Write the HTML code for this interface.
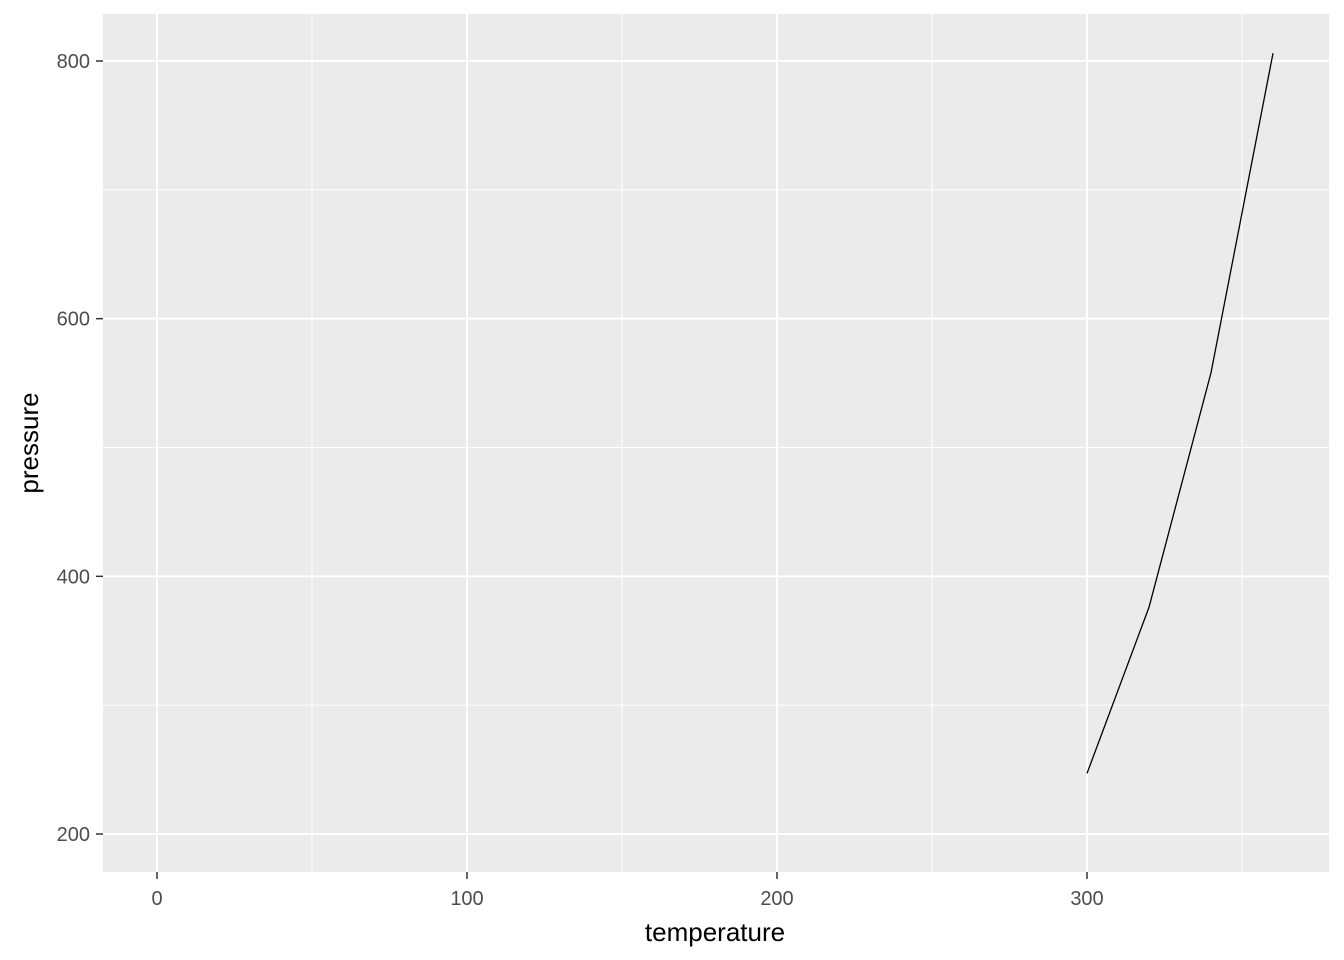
<!DOCTYPE html>
<html><head><meta charset="utf-8"><style>
body{margin:0;background:#fff;}
svg{display:block;font-family:"Liberation Sans",Arial,sans-serif;}
</style></head><body>
<svg id="chart" width="1344" height="960">
<rect x="103" y="14" width="1226" height="858" fill="#ebebeb"/>
<g id="grid"></g>
<g id="axes"></g>
<path id="line" fill="none" stroke="#000" stroke-width="1.3"/>
<text x="715" y="941" text-anchor="middle" font-size="26" fill="#000">temperature</text>
<text transform="translate(38,443) rotate(-90)" text-anchor="middle" font-size="26" fill="#000">pressure</text>
</svg>
<script>
const temperature=[300,320,340,360];
const pressure=[247,376,558,806];
const xTicks=[0,100,200,300];
const yTicks=[200,400,600,800];
const xMinor=[50,150,250,350];
const yMinor=[300,500,700];
const NS="http://www.w3.org/2000/svg";
function X(v){return 157+v*3.1;}
function Y(v){return 834-(v-200)*(773/600);}
const grid=document.getElementById('grid'),axes=document.getElementById('axes');
function ln(p,x1,y1,x2,y2,c,w,name){const l=document.createElementNS(NS,'line');
l.setAttribute('x1',x1);l.setAttribute('y1',y1);l.setAttribute('x2',x2);l.setAttribute('y2',y2);
l.setAttribute('stroke',c);l.setAttribute('stroke-width',w);


p.appendChild(l);}
function tx(x,y,s,anchor,name){const t=document.createElementNS(NS,'text');
t.setAttribute('x',x);t.setAttribute('y',y);t.setAttribute('text-anchor',anchor);
t.setAttribute('font-size','20');t.setAttribute('fill','#4d4d4d');t.textContent=s;


axes.appendChild(t);}
xMinor.forEach(v=>ln(grid,X(v),14,X(v),872,'#fff',1,'x-minor-gridline'));
yMinor.forEach(v=>ln(grid,103,Y(v),1329,Y(v),'#fff',1,'y-minor-gridline'));
xTicks.forEach(v=>{ln(grid,X(v),14,X(v),872,'#fff',2,'x-major-gridline');
ln(axes,X(v),872,X(v),879,'#333',1.5,'x-tick');tx(X(v),905,String(v),'middle','x-tick-label');});
yTicks.forEach(v=>{ln(grid,103,Y(v),1329,Y(v),'#fff',2,'y-major-gridline');
ln(axes,96,Y(v),103,Y(v),'#333',1.5,'y-tick');tx(90,Y(v)+7,String(v),'end','y-tick-label');});
document.getElementById('line').setAttribute('d',temperature.map((t,i)=>(i?'L':'M')+X(t)+','+Y(pressure[i])).join(''));
</script>
</body></html>
